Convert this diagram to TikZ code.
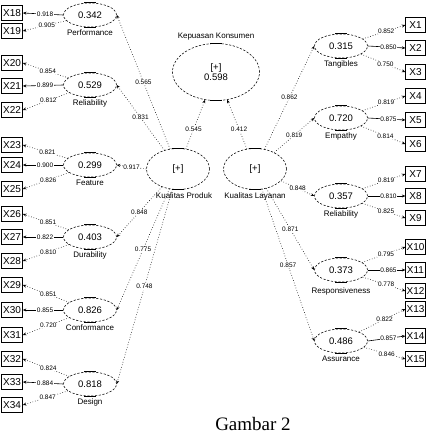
\documentclass[tikz,border=0pt]{standalone}
\usepackage{fontspec}
\setmainfont{Liberation Sans}
\newfontfamily\capfont{Liberation Serif}
\usetikzlibrary{arrows.meta,shapes.geometric}
\begin{document}
\begin{tikzpicture}[x=1pt,y=-1pt,
  ind/.style={draw,line width=0.8pt,minimum width=21pt,minimum height=15.5pt,inner sep=0pt,font=\fontsize{10}{10}\selectfont},
  lat/.style={ellipse,draw,dash pattern=on 2.2pt off 1.6pt,line width=0.55pt,minimum width=53pt,minimum height=24pt,inner sep=0pt,font=\fontsize{9.5}{10.5}\selectfont},
  big/.style={lat,minimum width=63pt,minimum height=41pt},
  lbl/.style={font=\fontsize{8}{8.5}\selectfont,inner sep=1pt,label distance=1.5pt},
  lo/.style={font=\fontsize{6.5}{7}\selectfont,fill=white,inner sep=0.5pt},
  arr/.style={-{Stealth[length=3.5pt,width=3pt]},line width=0.6pt},
  dots/.style={arr,dotted},
  full/.style={arr,solid},
  bar/.style={line width=0.9pt}
]
\useasboundingbox (0,0) rectangle (429,440);

% central latent variables
\node[big,minimum width=87pt,minimum height=57pt,align=center,label={[lbl]above:Kepuasan Konsumen}] (KK) at (216,72) {[+]\\0.598};
\node[big,label={[lbl,xshift=6pt]below:Kualitas Produk}] (KP) at (178,169) {[+]};
\node[big,label={[lbl]below:Kualitas Layanan}] (KL) at (255,169) {[+]};

% left dimensions
\node[lat,label={[lbl]below:Performance}] (Per) at (90,15) {0.342};
\node[lat,label={[lbl]below:Reliability}] (Rel) at (90,85) {0.529};
\node[lat,label={[lbl]below:Feature}] (Fea) at (90,165) {0.299};
\node[lat,label={[lbl]below:Durability}] (Dur) at (90,237) {0.403};
\node[lat,label={[lbl]below:Conformance}] (Con) at (90,310) {0.826};
\node[lat,label={[lbl]below:Design}] (Des) at (90,384) {0.818};

% right dimensions
\node[lat,label={[lbl]below:Tangibles}] (Tan) at (341,46) {0.315};
\node[lat,label={[lbl]below:Empathy}] (Emp) at (341,118) {0.720};
\node[lat,label={[lbl]below:Reliability}] (RelR) at (341,196) {0.357};
\node[lat,label={[lbl,yshift=-3pt]below:Responsiveness}] (Res) at (341,270) {0.373};
\node[lat,label={[lbl]below:Assurance}] (Ass) at (341,341) {0.486};

% bars on ellipses
\foreach \n in {KK,KP,KL,Per,Rel,Fea,Dur,Con,Des,Tan,Emp,RelR,Res,Ass}{
  \draw[bar] ([xshift=-6pt]\n.north) -- ([xshift=6pt]\n.north);
  \draw[bar] ([xshift=-6pt]\n.south) -- ([xshift=6pt]\n.south);
}

% left indicators
\foreach \i/\y in {18/13,19/31,20/63,21/86,22/110,23/145,24/165,25/189,26/214,27/237,28/261,29/285,30/310,31/335,32/359,33/382,34/405}{
  \node[ind] (X\i) at (12,\y) {X\i};
}
% right indicators
\foreach \i/\y in {1/25,2/48,3/72,4/96,5/120,6/144,7/174,8/196,9/218,10/247,11/270,12/291,13/309,14/336,15/359}{
  \node[ind,minimum width=19.5pt] (X\i) at (415.5,\y) {X\i};
}

% left loadings
\draw[full] (Per.west) -- node[lo,pos=0.45]{0.918} (X18.east);
\draw[dots] (Per) -- node[lo,pos=0.45]{0.905} (X19.east);
\draw[dots] (Rel) -- node[lo,pos=0.45]{0.854} (X20.east);
\draw[full] (Rel.west) -- node[lo,pos=0.45]{0.899} (X21.east);
\draw[dots] (Rel) -- node[lo,pos=0.45]{0.812} (X22.east);
\draw[dots] (Fea) -- node[lo,pos=0.45]{0.821} (X23.east);
\draw[full] (Fea.west) -- node[lo,pos=0.45]{0.900} (X24.east);
\draw[dots] (Fea) -- node[lo,pos=0.45]{0.826} (X25.east);
\draw[dots] (Dur) -- node[lo,pos=0.45]{0.851} (X26.east);
\draw[full] (Dur.west) -- node[lo,pos=0.45]{0.822} (X27.east);
\draw[dots] (Dur) -- node[lo,pos=0.45]{0.810} (X28.east);
\draw[dots] (Con) -- node[lo,pos=0.45]{0.851} (X29.east);
\draw[full] (Con.west) -- node[lo,pos=0.45]{0.855} (X30.east);
\draw[dots] (Con) -- node[lo,pos=0.45]{0.720} (X31.east);
\draw[dots] (Des) -- node[lo,pos=0.45]{0.824} (X32.east);
\draw[full] (Des.west) -- node[lo,pos=0.45]{0.884} (X33.east);
\draw[dots] (Des) -- node[lo,pos=0.45]{0.847} (X34.east);

% right loadings
\draw[dots] (Tan) -- node[lo,pos=0.55]{0.852} (X1.west);
\draw[full] (Tan.east) -- node[lo,pos=0.55]{0.850} (X2.west);
\draw[dots] (Tan) -- node[lo,pos=0.55]{0.750} (X3.west);
\draw[dots] (Emp) -- node[lo,pos=0.55]{0.819} (X4.west);
\draw[full] (Emp.east) -- node[lo,pos=0.55]{0.875} (X5.west);
\draw[dots] (Emp) -- node[lo,pos=0.55]{0.814} (X6.west);
\draw[dots] (RelR) -- node[lo,pos=0.55]{0.819} (X7.west);
\draw[full] (RelR.east) -- node[lo,pos=0.55]{0.810} (X8.west);
\draw[dots] (RelR) -- node[lo,pos=0.55]{0.825} (X9.west);
\draw[dots] (Res) -- node[lo,pos=0.55]{0.795} (X10.west);
\draw[full] (Res.east) -- node[lo,pos=0.55]{0.865} (X11.west);
\draw[dots] (Res) -- node[lo,pos=0.55]{0.778} (X12.west);
\draw[dots] (Ass) -- node[lo,pos=0.55]{0.822} (X13.west);
\draw[full] (Ass.east) -- node[lo,pos=0.55]{0.857} (X14.west);
\draw[dots] (Ass) -- node[lo,pos=0.55]{0.846} (X15.west);

% second order paths
\draw[dots] (KP) -- node[lo]{0.565} (Per.east);
\draw[dots] (KP) -- node[lo]{0.831} (Rel.east);
\draw[dots] (KP.west) -- node[lo]{0.917} (Fea.east);
\draw[dots] (KP) -- node[lo]{0.848} (Dur.east);
\draw[dots] (KP) -- node[lo]{0.775} (Con.east);
\draw[dots] (KP) -- node[lo]{0.748} (Des.east);

\draw[dots] (KL) -- node[lo]{0.862} (Tan.west);
\draw[dots] (KL) -- node[lo]{0.819} (Emp.west);
\draw[dots] (KL) -- node[lo]{0.848} (RelR.west);
\draw[dots] (KL) -- node[lo]{0.871} (Res.west);
\draw[dots] (KL) -- node[lo]{0.857} (Ass.west);

\draw[dots] (KP) -- node[lo,pos=0.4]{0.545} (KK);
\draw[dots] (KL) -- node[lo,pos=0.4]{0.412} (KK);

% caption
\node[font=\capfont\fontsize{19}{20}\selectfont,inner sep=0pt] (cap) at (253,424) {Gambar 2};
\end{tikzpicture}
\end{document}
